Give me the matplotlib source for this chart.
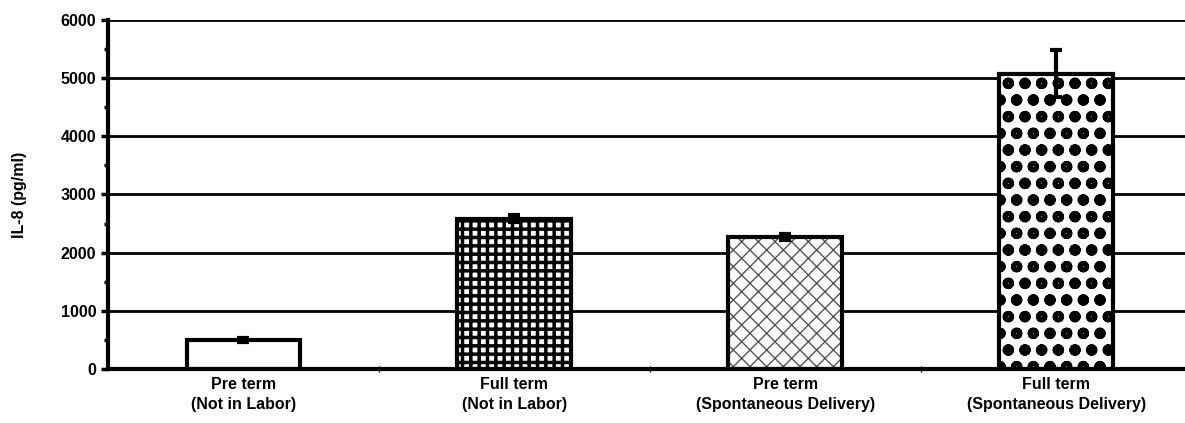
import numpy as np
import matplotlib.pyplot as plt

categories = ["Pre term\n(Not in Labor)", "Full term\n(Not in Labor)",
              "Pre term\n(Spontaneous Delivery)", "Full term\n(Spontaneous Delivery)"]
values = [500, 2580, 2270, 5080]
errors = [30, 60, 50, 400]
hatches = ['', '++', 'xx', 'o']
hatch_colors = ['black', 'black', '#555555', 'black']
hatch_lw = [1.0, 2.5, 1.0, 3.5]

plt.rcParams['font.family'] = ['Liberation Sans', 'DejaVu Sans']

fig = plt.figure(figsize=(11.85, 4.23), dpi=100)
ax = fig.add_axes([0.0911, 0.1277, 0.9089, 0.825])

x = np.arange(len(categories))
for yv in range(1000, 7000, 1000):
    ax.axhline(yv, color='black', linewidth=2, zorder=1)

for i in range(len(categories)):
    # hatch layer first (hatch takes the edge colour), then the black outline
    plt.rcParams['hatch.linewidth'] = hatch_lw[i]
    b = ax.bar(x[i], values[i], width=0.42, color='white', edgecolor=hatch_colors[i],
               linewidth=0, hatch=hatches[i], zorder=2)
    if hasattr(b[0], 'set_hatch_linewidth'):
        b[0].set_hatch_linewidth(hatch_lw[i])
ax.bar(x, values, width=0.42, color='none', edgecolor='black', linewidth=3, zorder=2.5)
ax.errorbar(x, values, yerr=errors, fmt='none', ecolor='black', elinewidth=3,
            capsize=4, capthick=3, zorder=3)

ax.set_xlim(-0.5, 3.475)
ax.set_ylim(0, 6000)
ax.set_yticks(range(0, 7000, 1000))
ax.set_yticks(range(500, 6000, 1000), minor=True)
ax.set_xticks(x)
ax.set_xticklabels(categories, fontsize=11.5, fontweight='bold', linespacing=1.35)
ax.set_xticks([0.5, 1.5, 2.5], minor=True)
for lbl in ax.get_yticklabels():
    lbl.set_fontweight('bold')
    lbl.set_fontsize(11.5)
ax.tick_params(axis='x', which='major', length=0, pad=6)
ax.tick_params(axis='x', which='minor', length=4, width=1, direction='inout')
ax.tick_params(axis='y', which='major', length=5, width=2.5)
ax.tick_params(axis='y', which='minor', length=3, width=2.5)
ax.set_ylabel('IL-8 (pg/ml)', fontsize=11.5, fontweight='bold', labelpad=24)

for side in ['top', 'right']:
    ax.spines[side].set_visible(False)
ax.spines['left'].set_linewidth(3)
ax.spines['bottom'].set_linewidth(3)

plt.savefig('out.png', dpi=100)
